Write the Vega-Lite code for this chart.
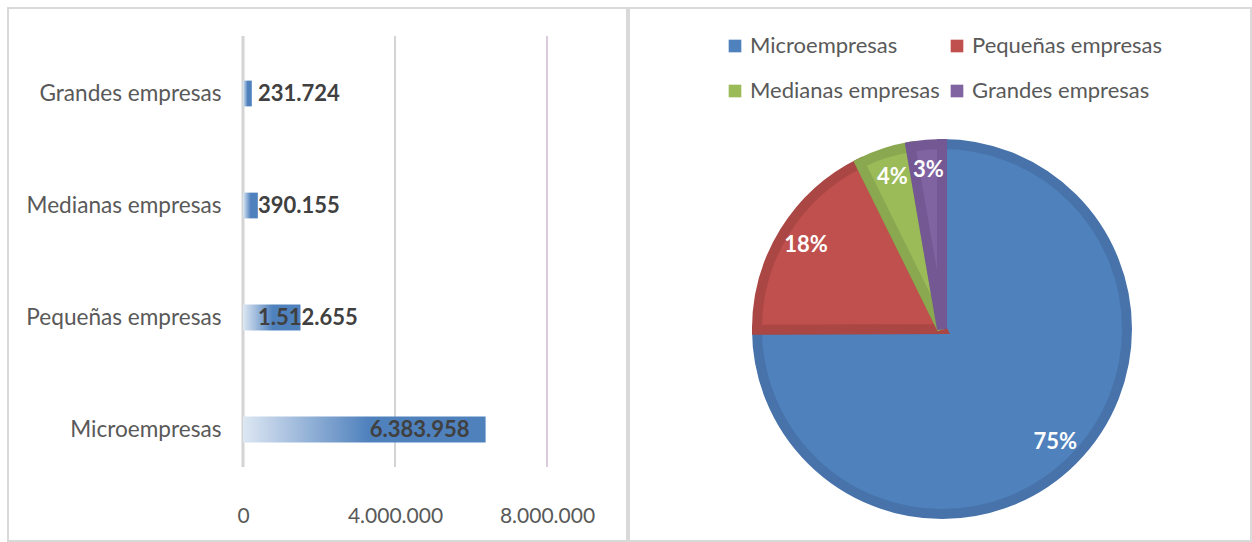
{
  "$schema": "https://vega.github.io/schema/vega-lite/v6.json",
  "padding": {"left": 7, "top": 7, "right": 0, "bottom": 0},
  "background": "white",
  "spacing": 0,
  "config": {
    "locale": {"number": {"decimal": ",", "thousands": ".", "grouping": [3], "currency": ["", " €"]}},
    "view": {"stroke": "#d9d9d9", "strokeWidth": 2},
    "font": "Lato",
    "axis": {"labelFont": "Lato", "titleFont": "Lato"},
    "legend": {"labelFont": "Lato"}
  },
  "datasets": {
    "empresas": [
      {"tipo": "Microempresas", "valor": 6383958, "pct": "75%", "orden": 1},
      {"tipo": "Pequeñas empresas", "valor": 1512655, "pct": "18%", "orden": 2},
      {"tipo": "Medianas empresas", "valor": 390155, "pct": "4%", "orden": 3},
      {"tipo": "Grandes empresas", "valor": 231724, "pct": "3%", "orden": 4}
    ],
    "rejilla": [
      {"t": 0},
      {"t": 4000000},
      {"t": 8000000}
    ]
  },
  "hconcat": [
    {
      "width": 619,
      "height": 533,
      "resolve": {"scale": {"y": "independent"}},
      "layer": [
        {
          "data": {"name": "rejilla"},
          "mark": {"type": "rule"},
          "encoding": {
            "x": {"field": "t", "type": "quantitative", "scale": {"domain": [0, 8000000], "range": [235, 539], "nice": false, "zero": true}, "axis": {"orient": "bottom", "offset": -36, "domain": false, "ticks": false, "grid": false, "values": [0, 4000000, 8000000], "format": ",d", "labelFontSize": 21, "labelColor": "#595959", "labelPadding": 0, "labelFlush": false, "labelOverlap": false, "title": null}},
            "y": {"datum": 0.1388, "type": "quantitative", "scale": {"domain": [0, 1], "zero": false, "nice": false}, "axis": null},
            "y2": {"datum": 0.9475},
            "stroke": {"condition": {"test": "datum.t == 8000000", "value": "#dccbdc"}, "value": "#d4d4d4"},
            "strokeWidth": {"condition": {"test": "datum.t == 0", "value": 3}, "value": 2}
          }
        },
        {
          "data": {"name": "empresas"},
          "encoding": {
            "y": {"field": "tipo", "type": "nominal", "sort": ["Grandes empresas", "Medianas empresas", "Pequeñas empresas", "Microempresas"], "scale": {"range": [29.5, 477.5], "paddingInner": 0.77, "paddingOuter": 0.385}, "axis": {"orient": "left", "offset": -213, "domain": false, "ticks": false, "grid": false, "labelPadding": 0, "labelFontSize": 22.6, "labelColor": "#595959", "labelLimit": 400, "title": null}},
            "x": {"field": "valor", "type": "quantitative"}
          },
          "layer": [
            {
              "mark": {"type": "bar", "fill": {"gradient": "linear", "x1": 0, "x2": 1, "y1": 0, "y2": 0, "stops": [{"offset": 0, "color": "#dde7f3"}, {"offset": 0.52, "color": "#4f81bd"}, {"offset": 1, "color": "#4f81bd"}]}}
            },
            {
              "transform": [{"filter": "datum.valor > 5000000"}],
              "mark": {"type": "text", "align": "right", "dx": -16, "font": "Lato", "fontWeight": "bold", "fontSize": 22, "fill": "#404040"},
              "encoding": {"text": {"field": "valor", "type": "quantitative", "format": ",d"}}
            },
            {
              "transform": [{"filter": "datum.valor <= 5000000"}],
              "mark": {"type": "text", "align": "left", "dx": 15, "font": "Lato", "fontWeight": "bold", "fontSize": 22, "fill": "#404040"},
              "encoding": {"x": {"datum": 0, "type": "quantitative"}, "text": {"field": "valor", "type": "quantitative", "format": ",d"}}
            }
          ]
        }
      ]
    },
    {
      "width": 622,
      "height": 533,
      "data": {"name": "empresas"},
      "encoding": {
        "theta": {"field": "valor", "type": "quantitative", "stack": true},
        "order": {"field": "orden", "type": "quantitative"},
        "x": {"datum": 0.5032, "type": "quantitative", "scale": {"domain": [0, 1], "zero": false, "nice": false}, "axis": null},
        "y": {"datum": 0.3977, "type": "quantitative", "scale": {"domain": [0, 1], "zero": false, "nice": false}, "axis": null}
      },
      "layer": [
        {
          "mark": {"type": "arc", "outerRadius": 185, "strokeWidth": 10, "strokeJoin": "miter"},
          "encoding": {
            "color": {"field": "tipo", "type": "nominal", "scale": {"domain": ["Microempresas", "Pequeñas empresas", "Medianas empresas", "Grandes empresas"], "range": ["#4f81bd", "#c0504d", "#9bbb59", "#8064a2"]}, "legend": {"orient": "none", "legendX": 716, "legendY": 27, "direction": "horizontal", "columns": 2, "title": null, "symbolType": "square", "symbolSize": 160, "symbolStrokeWidth": 0, "labelFontSize": 22, "labelColor": "#595959", "labelOffset": 4, "rowPadding": 23, "columnPadding": 6, "padding": 0, "labelLimit": 400}},
            "stroke": {"field": "tipo", "type": "nominal", "scale": {"domain": ["Microempresas", "Pequeñas empresas", "Medianas empresas", "Grandes empresas"], "range": ["#4773aa", "#aa4744", "#8aa84f", "#735893"]}, "legend": null}
          }
        },
        {
          "mark": {"type": "text", "radius": 160, "font": "Lato", "fontSize": 22, "fontWeight": "bold", "fill": "white"},
          "encoding": {"text": {"field": "pct", "type": "nominal"}}
        }
      ]
    }
  ]
}
